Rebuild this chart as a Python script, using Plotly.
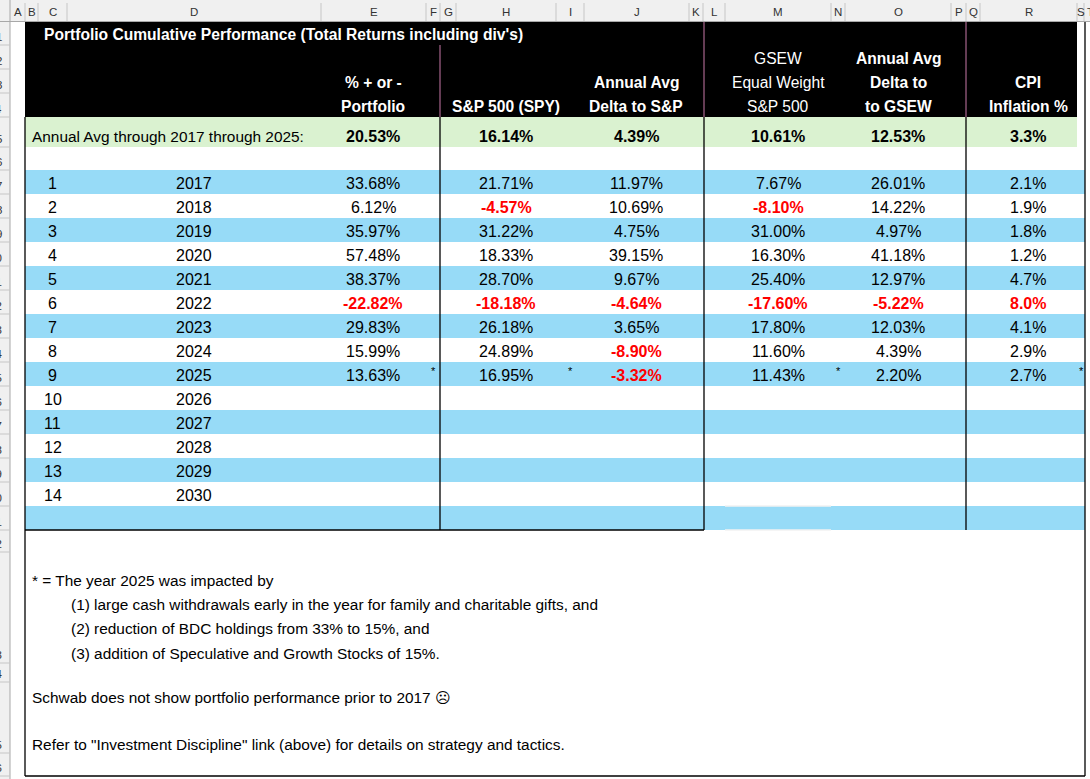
import plotly.graph_objects as go

# ---- data ----
row_no = list(range(1, 15))
years = list(range(2017, 2031))
portfolio = [33.68, 6.12, 35.97, 57.48, 38.37, -22.82, 29.83, 15.99, 13.63]
spy = [21.71, -4.57, 31.22, 18.33, 28.70, -18.18, 26.18, 24.89, 16.95]
delta_spy = [11.97, 10.69, 4.75, 39.15, 9.67, -4.64, 3.65, -8.90, -3.32]
gsew = [7.67, -8.10, 31.00, 16.30, 25.40, -17.60, 17.80, 11.60, 11.43]
delta_gsew = [26.01, 14.22, 4.97, 41.18, 12.97, -5.22, 12.03, 4.39, 2.20]
cpi = [2.1, 1.9, 1.8, 1.2, 4.7, 8.0, 4.1, 2.9, 2.7]

avg_label = "Annual Avg through 2017 through 2025:"
averages = [20.53, 16.14, 4.39, 10.61, 12.53, 3.3]

title = "Portfolio Cumulative Performance (Total Returns including div's)"
headers = [
    ["", "% + or -", "Portfolio"],
    ["", "", "S&P 500 (SPY)"],
    ["", "Annual Avg", "Delta to S&P"],
    ["GSEW", "Equal Weight", "S&P 500"],
    ["Annual Avg", "Delta to", "to GSEW"],
    ["", "CPI", "Inflation %"],
]
header_bold = [True, True, True, False, True, True]

notes = [
    "* = The year 2025 was impacted by",
    "(1) large cash withdrawals early in the year for family and charitable gifts, and",
    "(2) reduction of BDC holdings from 33% to 15%, and",
    "(3) addition of Speculative and Growth Stocks of 15%.",
    "Schwab does not show portfolio performance prior to 2017 \u2639",
    "Refer to \"Investment Discipline\" link (above) for details on strategy and tactics.",
]

col_letters = list("ABCDEFGHIJKLMNOPQRST")

# ---- sheet geometry (screen pixels) ----
W, H = 1090, 779
col_edges = [10, 25, 38, 67, 321, 426, 440, 456, 556, 584, 689, 703, 725, 831, 845, 951, 966, 980, 1077, 1084, 1096]
row_tops = [22, 45, 69, 93, 117, 147] + [170 + 24 * k for k in range(15)] + [530, 552, 663, 682, 753, 776]
value_cols = [373, 506, 636, 778, 898, 1028]   # E, H, J, M, O, R centres
star_x = [433, 570, 838, 1081]                 # F, I, N, S

FONT = "Liberation Sans, Arial, sans-serif"
FS = 15.4      # long text lines
FN = 16        # numbers
BLUE = "#97DBF7"
GREEN = "#DAF2D0"
RED = "#FF0000"

shapes = []
ann = []


def rect(x0, y0, x1, y1, color):
    shapes.append(dict(type="rect", xref="x", yref="y", x0=x0, y0=y0, x1=x1, y1=y1,
                       fillcolor=color, line=dict(width=0), layer="below"))


def line(x0, y0, x1, y1, color="black", width=1.3):
    shapes.append(dict(type="line", xref="x", yref="y", x0=x0, y0=y0, x1=x1, y1=y1,
                       line=dict(color=color, width=width)))


def text(x, y, s, size=FS, bold=False, color="black", anchor="center"):
    if bold:
        s = "<b>" + s + "</b>"
    ann.append(dict(x=x, y=y, xref="x", yref="y", text=s, showarrow=False,
                    xanchor=anchor, yanchor="middle",
                    font=dict(family=FONT, size=size, color=color)))


def row_mid(r):
    # excel bottom-aligned text
    return row_tops[r] - 11


# column header bar and row header strip
rect(0, 0, W, 21, "#F0F0F0")
rect(0, 21, 10, H, "#F0F0F0")
line(0, 21.5, W, 21.5, "#A8A8A8", 1)
line(10, 0, 10, H, "#A8A8A8", 1)
for e in col_edges[1:-1]:
    line(e, 3, e, 21, "#C6C6C6", 1)
for i, c in enumerate(col_letters):
    ann.append(dict(x=(col_edges[i] + col_edges[i + 1]) / 2, y=12, xref="x", yref="y", text=c,
                    showarrow=False, font=dict(family="Liberation Sans, Arial", size=11.5, color="#333")))
for r in range(1, len(row_tops)):
    line(0, row_tops[r], 10, row_tops[r], "#C6C6C6", 1)
    ann.append(dict(x=4, y=row_tops[r] - 8, xref="x", yref="y", text=str(r), showarrow=False,
                    xanchor="right", font=dict(family="Liberation Sans, Arial", size=11.5, color="#333")))

# header block
rect(25, 22, 1077, 117, "black")
rect(25, 117, 1077, 147, GREEN)

# striped rows 7..21
for r in range(7, 22):
    if r % 2 == 1:
        rect(25, row_tops[r - 1], 1085, row_tops[r], BLUE)

# header column dividers (pink) and body dividers
line(440, 45, 440, 117, "#C878A8", 1)
line(704, 22, 704, 117, "#C878A8", 1)
line(966, 22, 966, 117, "#C878A8", 1)
for x in [440, 704, 966]:
    line(x, 117, x, 530)
line(725, 506, 831, 506, "#F2F2F2", 1.5)
line(725, 530, 831, 530, "#F2F2F2", 1.5)

# outer frame
line(25, 117, 25, 776)
line(1085, 22, 1085, 776)
line(25, 530, 704, 530)
line(25, 776, 1085, 776)

# title + column headers
text(42, row_mid(1), title, size=15.6, bold=True, color="white", anchor="left")
for ci, hdr in enumerate(headers):
    for k, s in enumerate(hdr):
        if s:
            text(value_cols[ci], row_mid(2 + k), s, size=15.6, bold=header_bold[ci], color="white")

# averages row
text(30, row_mid(5), avg_label, anchor="left")
for ci, v in enumerate(averages):
    fmt = f"{v:.1f}%" if ci == 5 else f"{v:.2f}%"
    text(value_cols[ci], row_mid(5), fmt, size=FN, bold=True)

# yearly rows
series = [portfolio, spy, delta_spy, gsew, delta_gsew, cpi]
for i, (n, yr) in enumerate(zip(row_no, years)):
    r = 7 + i
    text(52.5, row_mid(r), str(n), size=FN)
    text(194, row_mid(r), str(yr), size=FN)
    if i < len(portfolio):
        for ci, s in enumerate(series):
            v = s[i]
            if ci == 5:
                hot = v >= 5
                fmt = f"{v:.1f}%"
            else:
                hot = v < 0
                fmt = f"{v:.2f}%"
            text(value_cols[ci], row_mid(r), fmt, size=FN, bold=hot, color=RED if hot else "black")

# asterisks on the 2025 row
for x in star_x:
    text(x, row_tops[14] + 9, "*", size=11)

# footnotes
note_y = [580, 604, 628, 653, 697, 744]
note_x = [30, 69, 69, 69, 30, 30]
for s, x, y in zip(notes, note_x, note_y):
    text(x, y, s, anchor="left")

fig = go.Figure()
fig.update_layout(
    width=W, height=H,
    margin=dict(l=0, r=0, t=0, b=0),
    paper_bgcolor="white", plot_bgcolor="white",
    xaxis=dict(range=[0, W], visible=False, fixedrange=True),
    yaxis=dict(range=[H, 0], visible=False, fixedrange=True),
    shapes=shapes, annotations=ann, showlegend=False,
)
fig.write_html("out.html", config={"displayModeBar": False},
               post_script="document.body.style.margin='0';")
